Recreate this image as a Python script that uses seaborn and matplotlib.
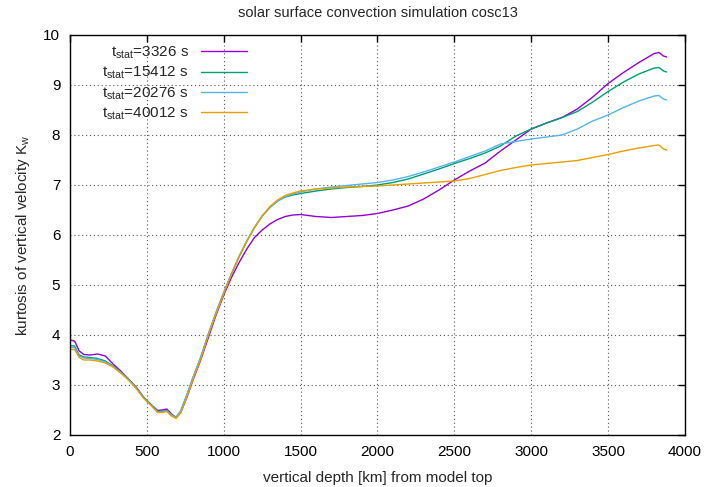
import numpy as np
import pandas as pd
import seaborn as sns
import matplotlib
matplotlib.use("Agg")
import matplotlib.pyplot as plt

# depth grid [km] below model top
depth = [0, 30, 60, 90, 130, 180, 230, 280, 330, 380, 430, 480, 530, 570, 600,
         630, 660, 690, 720, 760, 800, 850, 900, 950, 1000, 1050, 1100, 1150,
         1200, 1250, 1300, 1350, 1400, 1450, 1500, 1600, 1700, 1800, 1900, 2000,
         2100, 2200, 2300, 2400, 2500, 2600, 2700, 2800, 2900, 3000, 3100, 3200,
         3300, 3400, 3500, 3600, 3700, 3800, 3830, 3860, 3880]

# kurtosis of vertical velocity for each statistics time
kurt_3326 = [3.90, 3.88, 3.68, 3.61, 3.60, 3.62, 3.58, 3.42, 3.28, 3.12, 2.96,
             2.75, 2.60, 2.49, 2.50, 2.52, 2.42, 2.35, 2.45, 2.75, 3.10, 3.50,
             3.95, 4.40, 4.80, 5.15, 5.45, 5.72, 5.95, 6.10, 6.22, 6.31, 6.37,
             6.40, 6.41, 6.37, 6.35, 6.37, 6.39, 6.43, 6.50, 6.58, 6.72, 6.90,
             7.10, 7.28, 7.44, 7.68, 7.90, 8.12, 8.24, 8.35, 8.52, 8.76, 9.03,
             9.25, 9.45, 9.63, 9.65, 9.58, 9.56]
kurt_15412 = [3.79, 3.78, 3.60, 3.56, 3.55, 3.53, 3.48, 3.38, 3.26, 3.12, 2.95,
              2.75, 2.60, 2.47, 2.47, 2.49, 2.40, 2.35, 2.48, 2.80, 3.15, 3.55,
              4.02, 4.45, 4.85, 5.22, 5.57, 5.88, 6.15, 6.38, 6.55, 6.68, 6.76,
              6.80, 6.83, 6.88, 6.92, 6.95, 6.97, 7.00, 7.05, 7.12, 7.22, 7.32,
              7.43, 7.53, 7.64, 7.78, 7.98, 8.12, 8.24, 8.35, 8.47, 8.66, 8.87,
              9.06, 9.22, 9.34, 9.35, 9.28, 9.26]
kurt_20276 = [3.75, 3.75, 3.58, 3.54, 3.53, 3.51, 3.46, 3.37, 3.25, 3.11, 2.94,
              2.74, 2.59, 2.46, 2.46, 2.48, 2.40, 2.35, 2.48, 2.80, 3.15, 3.55,
              4.02, 4.45, 4.85, 5.22, 5.57, 5.88, 6.15, 6.38, 6.55, 6.68, 6.77,
              6.82, 6.86, 6.92, 6.96, 6.99, 7.02, 7.05, 7.10, 7.17, 7.26, 7.36,
              7.46, 7.57, 7.68, 7.82, 7.87, 7.92, 7.96, 8.00, 8.12, 8.28, 8.40,
              8.55, 8.68, 8.78, 8.79, 8.72, 8.70]
kurt_40012 = [3.71, 3.71, 3.55, 3.50, 3.50, 3.48, 3.44, 3.36, 3.24, 3.10, 2.93,
              2.73, 2.58, 2.45, 2.45, 2.47, 2.38, 2.33, 2.44, 2.76, 3.12, 3.52,
              4.00, 4.43, 4.83, 5.22, 5.57, 5.88, 6.15, 6.38, 6.57, 6.70, 6.79,
              6.84, 6.88, 6.92, 6.94, 6.96, 6.97, 6.98, 7.00, 7.02, 7.04, 7.06,
              7.08, 7.13, 7.21, 7.29, 7.35, 7.40, 7.43, 7.46, 7.49, 7.55, 7.61,
              7.68, 7.74, 7.79, 7.80, 7.72, 7.70]

series_labels = [r"t$_{\mathrm{stat}}$=3326 s", r"t$_{\mathrm{stat}}$=15412 s",
                 r"t$_{\mathrm{stat}}$=20276 s", r"t$_{\mathrm{stat}}$=40012 s"]
series_values = [kurt_3326, kurt_15412, kurt_20276, kurt_40012]
colors = ["#9400D3", "#009E73", "#56B4E9", "#E69F00"]

frames = [pd.DataFrame({"depth": depth, "kurtosis": vals, "run": lab})
          for lab, vals in zip(series_labels, series_values)]
df = pd.concat(frames, ignore_index=True)

sns.set_theme(style="white")
plt.rcParams["font.family"] = ["Liberation Sans", "DejaVu Sans"]
plt.rcParams["mathtext.fontset"] = "custom"
plt.rcParams["mathtext.rm"] = "Liberation Sans"
plt.rcParams["mathtext.it"] = "Liberation Sans"

fig = plt.figure(figsize=(7.04, 4.87), dpi=100)
ax = fig.add_axes([70 / 704, 1 - 435 / 487, 615 / 704, 400 / 487])

sns.lineplot(data=df, x="depth", y="kurtosis", hue="run",
             hue_order=series_labels, palette=colors, linewidth=1.0,
             ax=ax, sort=False, estimator=None)

ax.set_xlim(0, 4000)
ax.set_ylim(2, 10)
ax.set_xticks(np.arange(0, 4001, 500))
ax.set_yticks(np.arange(2, 10.1, 1))
ax.grid(True, color="#555555", linestyle=(0, (1, 2.5)), linewidth=0.8)
ax.set_axisbelow(True)
for s in ax.spines.values():
    s.set_color("black")
    s.set_linewidth(1.0)
ax.tick_params(axis="both", which="major", direction="in", length=5,
               width=1.0, color="black", labelsize=11, labelcolor="black",
               top=True, right=True, pad=7)

ax.set_xlabel("vertical depth [km] from model top", fontsize=11, labelpad=9)
ax.set_ylabel(r"kurtosis of vertical velocity K$_{\mathrm{w}}$", fontsize=11,
              labelpad=8)
ax.set_title("solar surface convection simulation cosc13", fontsize=10.5,
             pad=13)

leg = ax.legend(loc="upper left", bbox_to_anchor=(0.03, 1.01),
                frameon=False, markerfirst=False, fontsize=11,
                handlelength=3.0, handletextpad=0.8, labelspacing=0.25)
for t in leg.get_texts():
    t.set_ha("right")

fig.savefig("out.png", dpi=100)
